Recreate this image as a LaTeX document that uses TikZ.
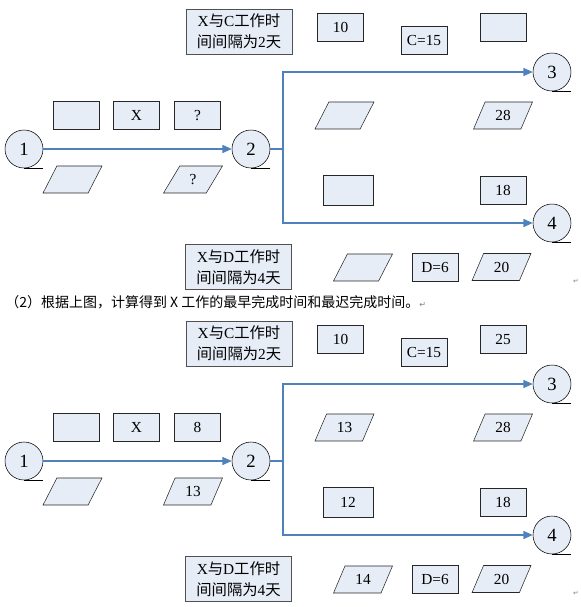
\documentclass[tikz,border=0pt]{standalone}
\usepackage{fontspec}
\setmainfont{Liberation Serif}
\newfontfamily\cjk{Noto Sans CJK SC}
\newfontfamily\symfont{DejaVu Sans}
\usetikzlibrary{shapes.geometric,arrows.meta}
\newcommand{\zh}[1]{{\cjk #1}}

\definecolor{boxfill}{RGB}{231,237,247}
\definecolor{flowblue}{RGB}{79,129,189}
\definecolor{notegray}{RGB}{80,80,80}

\tikzset{
  box/.style={rectangle, draw=black!85, fill=boxfill, minimum width=34.5pt, minimum height=21pt, inner sep=0pt, font=\fontsize{11.5}{13}\selectfont},
  bigbox/.style={box, minimum width=37.5pt, minimum height=22.5pt},
  para/.style={trapezium, trapezium left angle=66, trapezium right angle=114, trapezium stretches=true, draw=black!85, fill=boxfill, minimum width=44.25pt, minimum height=20.25pt, inner sep=1pt, font=\fontsize{11.5}{13}\selectfont},
  note/.style={box, draw=notegray, minimum width=79.5pt, minimum height=34pt, align=center, font=\fontsize{11.5}{15.5}\selectfont},
  evt/.style={circle, draw=black, fill=boxfill, minimum size=28.5pt, inner sep=0pt, font=\fontsize{14}{15}\selectfont},
  flow/.style={draw=flowblue, line width=1.1pt},
  pmark/.style={text=gray, inner sep=0pt, font=\symfont\fontsize{5}{5}\selectfont},
}

\begin{document}
\begin{tikzpicture}[x=0.75pt, y=-0.75pt, >={Triangle[length=7pt,width=6pt]}]
    \useasboundingbox (0,0) rectangle (581,607);

    % first network: before calculation
    \begin{scope}
        \node[evt] (t1) at (24,149) {1};
        \node[evt] (t2) at (251,149) {2};
        \node[evt] (t3) at (552,72) {3};
        \node[evt] (t4) at (552,223) {4};

        \node[note] (tnoteC) at (239,31.5) {X\zh{与}C\zh{工作时}\\\zh{间间隔为}2\zh{天}};
        \node[box] (tc1) at (340.5,27) {10};
        \node[box] (tc2) at (424,40.5) {C=15};
        \node[box] (tc3) at (503,27) {};
        \node[para] (tc4) at (344.5,115.5) {};
        \node[para] (tc5) at (503,115.5) {28};

        \node[box] (tx1) at (76.5,115.5) {};
        \node[box] (tx2) at (136.5,115.5) {X};
        \node[box] (tx3) at (197.5,115.5) {?};
        \node[para] (tx4) at (72.5,179.5) {};
        \node[para] (tx5) at (193,179.5) {?};

        \node[bigbox] (td1) at (348,190) {};
        \node[box] (td2) at (503,190) {18};
        \node[note] (tnoteD) at (238.5,267) {X\zh{与}D\zh{工作时}\\\zh{间间隔为}4\zh{天}};
        \node[para] (td3) at (363,267.5) {};
        \node[box] (td4) at (435,267) {D=6};
        \node[para] (td5) at (501.5,267) {20};

        \coordinate (tfork) at (283,149);
        \draw[flow,->] (t1) -- (t2);
        \draw[flow] (t2) -- (tfork);
        \draw[flow,->] (tfork) |- (t3);
        \draw[flow,->] (tfork) |- (t4);

        \node[pmark] (tpm) at (576,281) {↵};
    \end{scope}

    \node[anchor=west, inner sep=0pt, font=\cjk\fontsize{10.5}{12}\selectfont] (question) at (5,302)
        {（2）根据上图，计算得到 X 工作的最早完成时间和最迟完成时间。{\symfont\color{gray}\fontsize{6}{6}\selectfont ↵}};

    % second network: after calculation
    \begin{scope}[yshift=-234pt]
        \node[evt] (b1) at (24,149) {1};
        \node[evt] (b2) at (251,149) {2};
        \node[evt] (b3) at (552,72) {3};
        \node[evt] (b4) at (552,223) {4};

        \node[note] (bnoteC) at (239,31.5) {X\zh{与}C\zh{工作时}\\\zh{间间隔为}2\zh{天}};
        \node[box] (bc1) at (340.5,27) {10};
        \node[box] (bc2) at (424,40.5) {C=15};
        \node[box] (bc3) at (503,27) {25};
        \node[para] (bc4) at (344.5,115.5) {13};
        \node[para] (bc5) at (503,115.5) {28};

        \node[box] (bx1) at (76.5,115.5) {};
        \node[box] (bx2) at (136.5,115.5) {X};
        \node[box] (bx3) at (197.5,115.5) {8};
        \node[para] (bx4) at (72.5,179.5) {};
        \node[para] (bx5) at (193,179.5) {13};

        \node[bigbox] (bd1) at (348,190) {12};
        \node[box] (bd2) at (503,190) {18};
        \node[note] (bnoteD) at (238.5,267) {X\zh{与}D\zh{工作时}\\\zh{间间隔为}4\zh{天}};
        \node[para] (bd3) at (363,267.5) {14};
        \node[box] (bd4) at (435,267) {D=6};
        \node[para] (bd5) at (501.5,267) {20};

        \coordinate (bfork) at (283,149);
        \draw[flow,->] (b1) -- (b2);
        \draw[flow] (b2) -- (bfork);
        \draw[flow,->] (bfork) |- (b3);
        \draw[flow,->] (bfork) |- (b4);

        \node[pmark] (bpm) at (576,281) {↵};
    \end{scope}

    % storage line under each event circle
    \foreach \n in {t1,t2,t3,t4,b1,b2,b3,b4}
        \draw (\n.south) -- (\n.south -| \n.east);

\end{tikzpicture}
\end{document}
